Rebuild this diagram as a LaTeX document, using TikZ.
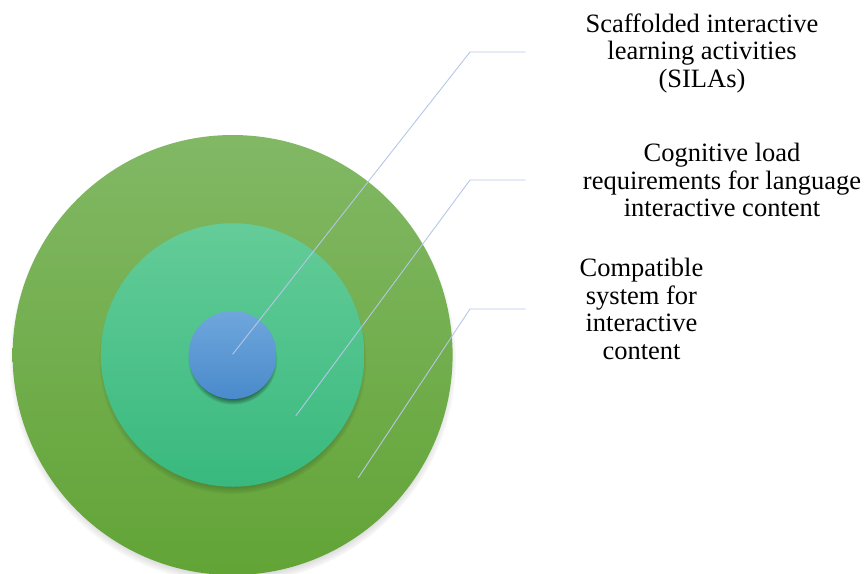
\documentclass[tikz,border=0pt]{standalone}
\usepackage{fontspec}
\setmainfont{Liberation Serif}
\usetikzlibrary{shadows}
\definecolor{outtop}{HTML}{82B865}
\definecolor{outbot}{HTML}{62A436}
\definecolor{midtop}{HTML}{64CC98}
\definecolor{midbot}{HTML}{38B97E}
\definecolor{intop}{HTML}{6FA7DC}
\definecolor{inbot}{HTML}{4A8ACB}
\definecolor{leader}{HTML}{B4C7E7}
\begin{document}
\begin{tikzpicture}[x=1pt,y=-1pt,
  ring/.style={circle,inner sep=0pt,draw=none},
  shad/.style={circular drop shadow={shadow xshift=0pt,shadow yshift=-5pt,shadow scale=1.015,fill=black,opacity=0.5}},
  leaderline/.style={draw=leader,line width=0.9pt},
  lbl/.style={font=\fontsize{26.5}{27.5}\selectfont,align=center,inner sep=0pt,text=black}]
\useasboundingbox (0,0) rectangle (864,573);
\node[ring,shad,minimum size=440pt,top color=outtop,bottom color=outbot] (outer) at (232.6,355) {};
\node[ring,shad,minimum size=263.5pt,top color=midtop,bottom color=midbot] (middle) at (232.6,355) {};
\node[ring,shad,minimum size=88pt,top color=intop,bottom color=inbot] (inner) at (232.6,355) {};
\coordinate (s1) at (232.6,354.3);
\coordinate (s2) at (295.7,416);
\coordinate (s3) at (358.3,477.7);
\coordinate (e1) at (470,52);
\coordinate (e2) at (470,180);
\coordinate (e3) at (470,309);
\coordinate (t1) at (525.5,52);
\coordinate (t2) at (525.5,180);
\coordinate (t3) at (525.5,309);
\draw[leaderline] (s1) -- (e1) -- (t1);
\draw[leaderline] (s2) -- (e2) -- (t2);
\draw[leaderline] (s3) -- (e3) -- (t3);
\node[lbl] (l1) at (702,53) {Scaffolded interactive\\learning activities\\(SILAs)};
\node[lbl] (l2) at (722,180) {Cognitive load\\requirements for language\\interactive content};
\node[lbl] (l3) at (641.5,309) {Compatible\\system for\\interactive\\content};
\end{tikzpicture}
\end{document}
